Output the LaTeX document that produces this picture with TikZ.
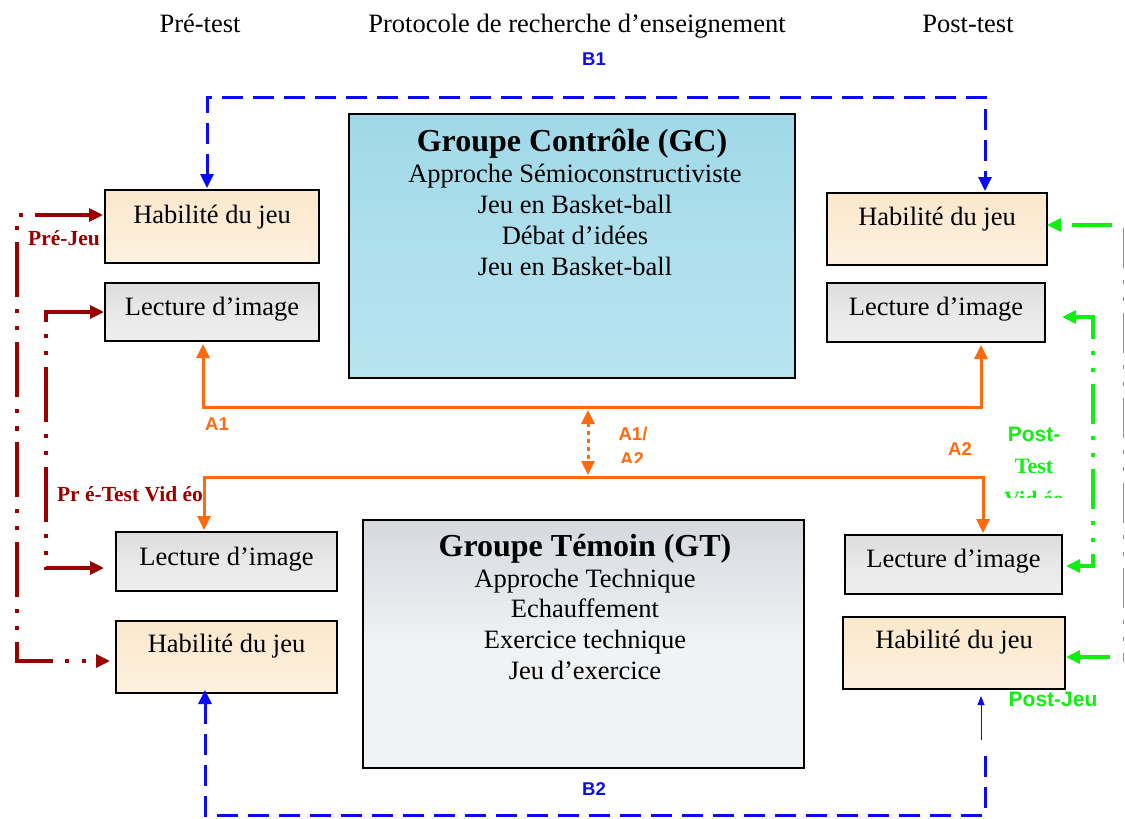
\documentclass[tikz,border=0pt]{standalone}
\usepackage{fontspec}
\setmainfont{Liberation Serif}
\setsansfont{Liberation Sans}
\usetikzlibrary{arrows.meta}
\definecolor{bluel}{HTML}{0A0AF5}
\definecolor{orl}{HTML}{FF6A0E}
\definecolor{redl}{HTML}{990000}
\definecolor{grl}{HTML}{11EE11}
\definecolor{habA}{HTML}{FBE8CC}
\definecolor{habB}{HTML}{FDF1DF}
\definecolor{lecA}{HTML}{DCDCDC}
\definecolor{lecB}{HTML}{EEEEEE}
\definecolor{gcA}{HTML}{A0D8E8}
\definecolor{gcB}{HTML}{B8E4EF}
\definecolor{gtA}{HTML}{D5D9DE}
\definecolor{gtB}{HTML}{F0F2F4}
\begin{document}
\begin{tikzpicture}[x=1pt,y=-1pt,
  every node/.style={inner sep=0pt, outer sep=0pt},
  txt/.style={font=\fontsize{26.5}{30}\selectfont, anchor=base},
  ttl/.style={font=\fontsize{32}{36}\selectfont\bfseries, anchor=base},
  habbox/.style={draw=black, line width=1.6pt, top color=habA, bottom color=habB},
  lecbox/.style={draw=black, line width=1.6pt, top color=lecA, bottom color=lecB, middle color=lecB!70!lecA},
  gcbox/.style={draw=black, line width=1.6pt, top color=gcA, bottom color=gcB, middle color=gcA!40!gcB},
  gtbox/.style={draw=black, line width=1.6pt, top color=gtA, bottom color=gtB, middle color=gtB},
  lab/.style={font=\sffamily\bfseries\fontsize{18.5}{20}\selectfont, anchor=base},
  rlab/.style={font=\bfseries\fontsize{21.5}{24}\selectfont, anchor=base, text=redl},
  glab/.style={font=\sffamily\bfseries\fontsize{21}{24}\selectfont, anchor=base, text=grl},
  glabs/.style={font=\bfseries\fontsize{22}{24}\selectfont, anchor=base, text=grl},
  tipo/.style={-{Triangle[length=14pt,width=13pt]}},
  tipi/.style={{Triangle[length=14pt,width=13pt]}-},
  dbl/.style={{Triangle[length=14pt,width=13pt]}-{Triangle[length=14pt,width=13pt]}},
  bdash/.style={draw=bluel, line width=3pt, dash pattern=on 21pt off 10pt},
  oline/.style={draw=orl, line width=3pt},
  odot/.style={draw=orl, line width=3pt, dash pattern=on 4pt off 4pt},
  rline/.style={draw=redl, line width=3.2pt, dash pattern=on 55pt off 12pt on 4pt off 13pt on 4pt off 12pt},
  gdd/.style={draw=grl, line width=3.2pt, dash pattern=on 40pt off 12pt on 4pt off 13pt on 4pt off 12pt},
  gsolid/.style={draw=grl, line width=3.2pt}
]
\useasboundingbox (0,0) rectangle (1125,819);

% titles
\node[txt] (t1) at (200,32) {Pré-test};
\node[txt] (t2) at (577,32) {Protocole de recherche d’enseignement};
\node[txt] (t3) at (968,32) {Post-test};

% central boxes
\node[gcbox, minimum width=446pt, minimum height=264pt] (GC) at (572,246) {};
\node[ttl] (gc0) at (572,151) {Groupe Contrôle (GC)};
\node[txt] (gc1) at (575,182) {Approche Sémioconstructiviste};
\node[txt] (gc2) at (575,213) {Jeu en Basket-ball};
\node[txt] (gc3) at (575,244) {Débat d’idées};
\node[txt] (gc4) at (575,275) {Jeu en Basket-ball};

\node[gtbox, minimum width=441pt, minimum height=248pt] (GT) at (583.5,644) {};
\node[ttl] (gt0) at (585,556) {Groupe Témoin (GT)};
\node[txt] (gt1) at (585,587) {Approche Technique};
\node[txt] (gt2) at (585,617) {Echauffement};
\node[txt] (gt3) at (585,648) {Exercice technique};
\node[txt] (gt4) at (585,679) {Jeu d’exercice};

% side boxes
\node[habbox, minimum width=214pt, minimum height=73pt] (LHtop) at (212,226.5) {};
\node[txt] (lht) at (212,223) {Habilité du jeu};
\node[lecbox, minimum width=214pt, minimum height=58pt] (LLtop) at (212,312) {};
\node[txt] (llt) at (212,315) {Lecture d’image};
\node[habbox, minimum width=220pt, minimum height=72pt] (RHtop) at (937,229) {};
\node[txt] (rht) at (937,225) {Habilité du jeu};
\node[lecbox, minimum width=218pt, minimum height=59pt] (RLtop) at (936,312.5) {};
\node[txt] (rlt) at (936,315) {Lecture d’image};

\node[lecbox, minimum width=221pt, minimum height=59pt] (LLbot) at (226.5,561.5) {};
\node[txt] (llb) at (226.5,565) {Lecture d’image};
\node[habbox, minimum width=221pt, minimum height=72pt] (LHbot) at (226.5,657) {};
\node[txt] (lhb) at (226.5,652) {Habilité du jeu};
\node[lecbox, minimum width=217pt, minimum height=59pt] (RLbot) at (953.5,564.5) {};
\node[txt] (rlb) at (953.5,567) {Lecture d’image};
\node[habbox, minimum width=222pt, minimum height=72pt] (RHbot) at (954,653) {};
\node[txt] (rhb) at (954,648) {Habilité du jeu};

% coordinates
\coordinate (b1) at (594,97);
\coordinate (b2) at (594,815);
\coordinate (b2e) at (985,748);
\coordinate (b2t) at (981,740);
\coordinate (a1) at (590,407);
\coordinate (a2) at (590,477);
\coordinate (r1) at (17,430);
\coordinate (r2) at (46,430);
\coordinate (g2) at (1093,430);
\coordinate (g1t) at (1112,225);
\coordinate (g1b) at (1110,657);
\coordinate (gvt) at (1123,228);
\coordinate (gvb) at (1123,662);

% blue B1 / B2
\draw[bdash, dbl, shorten <=2pt, shorten >=2pt] ([xshift=-5pt]LHtop.north) |- (b1) -| ([xshift=48pt]RHtop.north);
\draw[bdash, tipi, shorten <=-3pt] ([xshift=-21.5pt]LHbot.south) |- (b2) -| (b2e);
\draw[draw=bluel, line width=0.8pt, -{Triangle[length=9pt,width=7pt]}, shorten >=7pt] (b2t) -- ([xshift=27pt]RHbot.south);
\node[lab, text=bluel] (lb1) at (594,65) {B1};
\node[lab, text=bluel] (lb2) at (594,795) {B2};

% orange A1 / A2
\draw[oline, dbl, shorten <=3pt, shorten >=3pt] ([xshift=-9pt]LLtop.south) |- (a1) -| ([xshift=45pt]RLtop.south);
\draw[oline, dbl, shorten <=2pt, shorten >=2pt] ([xshift=-22.5pt]LLbot.north) |- (a2) -| ([xshift=29.5pt]RLbot.north);
\draw[odot, dbl, shorten <=3pt, shorten >=2pt] ([xshift=-2pt]a1) -- ([xshift=-2pt]a2);
\node[lab, text=orl] (la1) at (217,430) {A1};
\node[lab, text=orl] (la2) at (960,455) {A2};
\begin{scope}
\clip (600,415) rectangle (690,462);
\node[lab, text=orl] (la12a) at (633,440) {A1/};
\node[lab, text=orl] (la12b) at (632,465) {A2};
\end{scope}

% red Pre-test arrows
\draw[rline, dbl, shorten <=2pt, shorten >=6pt] ([yshift=11.5pt]LHtop.west) -| (r1) |- ([yshift=-4pt]LHbot.west);
\draw[rline, dbl, shorten <=1pt, shorten >=12pt] (LLtop.west) -| (r2) |- ([yshift=-6.5pt]LLbot.west);
\node[rlab] (lpj) at (64,245) {Pré-Jeu};
\node[rlab] (lptv) at (130,501) {Pr é-Test Vid éo};

% green Post-test arrows
\draw[gdd, tipo] (g1t) -- ([yshift=4pt]RHtop.east);
\draw[draw=grl, line width=1pt, dash pattern=on 40pt off 12pt on 4pt off 13pt on 4pt off 12pt] (gvt) -- (gvb);
\draw[gsolid, tipo, shorten >=1pt] (g1b) -- ([yshift=-4pt]RHbot.east);
\draw[gdd, dbl, shorten <=17pt, shorten >=4pt] ([yshift=-4.5pt]RLtop.east) -| (g2) |- ([yshift=-1.5pt]RLbot.east);
\node[glab] (lpt1) at (1034,441) {Post-};
\node[glabs] (lpt2) at (1034,473) {Test};
\begin{scope}
\clip (995,480) rectangle (1075,497);
\node[glabs] (lpt3) at (1034,506) {Vid éo};
\end{scope}
\node[glab] (lpjeu) at (1053,706) {Post-Jeu};

\end{tikzpicture}
\end{document}
